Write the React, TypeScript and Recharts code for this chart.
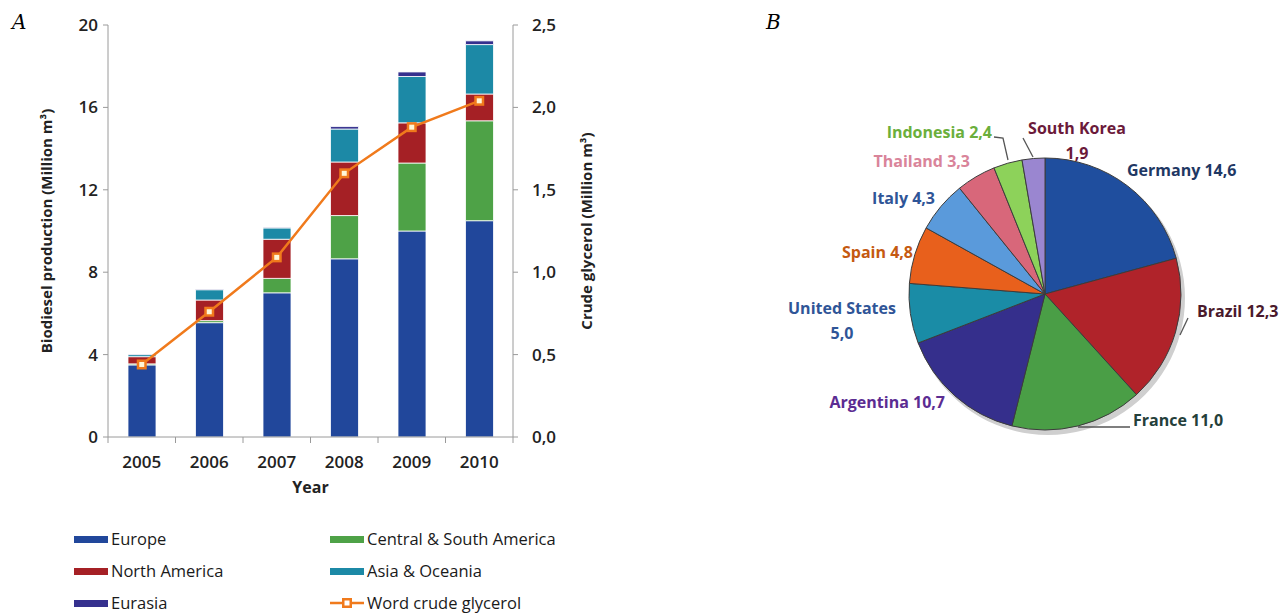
import { Bar, Cell, ComposedChart, Line, Pie, PieChart, XAxis, YAxis } from "recharts";

const years = ["2005", "2006", "2007", "2008", "2009", "2010"];
const europe = [3.5, 5.55, 7.0, 8.65, 10.0, 10.5];
const centralSouthAmerica = [0.05, 0.1, 0.7, 2.1, 3.3, 4.85];
const northAmerica = [0.35, 1.0, 1.9, 2.6, 1.95, 1.3];
const asiaOceania = [0.1, 0.5, 0.55, 1.6, 2.25, 2.4];
const eurasia = [0.03, 0.03, 0.03, 0.12, 0.22, 0.18];
const crudeGlycerol = [0.44, 0.76, 1.09, 1.6, 1.88, 2.04];

const leftTicks = [0, 4, 8, 12, 16, 20];
const rightTicks = [0, 0.5, 1, 1.5, 2, 2.5];

const countries = [
  "Germany", "Brazil", "France", "Argentina", "United States",
  "Spain", "Italy", "Thailand", "Indonesia", "South Korea",
];
const shares = [14.6, 12.3, 11.0, 10.7, 5.0, 4.8, 4.3, 3.3, 2.4, 1.9];

const FONT = "'Open Sans', 'DejaVu Sans', sans-serif";
const PLOT_W = 405;
const BAND = PLOT_W / years.length;

const series = [
  { key: "europe", name: "Europe", color: "#21479B" },
  { key: "csa", name: "Central & South America", color: "#4EA247" },
  { key: "na", name: "North America", color: "#A52025" },
  { key: "asia", name: "Asia & Oceania", color: "#1C89A6" },
  { key: "eurasia", name: "Eurasia", color: "#35308E" },
];
const GLYCEROL = "#F07A1C";

const barData = years.map((year, i) => ({
  year,
  europe: europe[i],
  csa: centralSouthAmerica[i],
  na: northAmerica[i],
  asia: asiaOceania[i],
  eurasia: eurasia[i],
  glycerol: crudeGlycerol[i],
}));

const pieColors = [
  "#1F4E9E", "#B0232A", "#4A9E46", "#352F8C", "#1A8CA6",
  "#E8601C", "#5A9ADB", "#D8677A", "#8DD25A", "#9A86D0",
];

// label placement relative to pie centre
const pieLabelSpots: Record<string, any> = {
  Germany: { x: 82, y: -124, anchor: "start", color: "#1F3864" },
  Brazil: { x: 152, y: 17, anchor: "start", color: "#4A1A2C", leader: [[143, 24], [135, 41]] },
  France: { x: 88, y: 126, anchor: "start", color: "#24403A", leader: [[33, 133], [85, 133]] },
  Argentina: { x: -100, y: 108, anchor: "end", color: "#5B2C92" },
  "United States": { x: -203, y: 14, anchor: "middle", color: "#2F5597", split: true },
  Spain: { x: -132, y: -42, anchor: "end", color: "#C55A11" },
  Italy: { x: -110, y: -96, anchor: "end", color: "#2F5597" },
  Thailand: { x: -75, y: -133, anchor: "end", color: "#D9849A" },
  Indonesia: { x: -53, y: -162, anchor: "end", color: "#6BAF3C", leader: [[-51, -157], [-42, -156], [-37, -134]] },
  "South Korea": { x: 32, y: -166, anchor: "middle", color: "#6B1A3A", split: true, leader: [[-22, -156], [-12, -137]] },
};

const comma = (v: number) => v.toFixed(1).replace(".", ",");

function YearTick(props: any) {
  const { x, y, payload, index } = props;
  const top = y - 6;
  return (
    <g>
      <line x1={x - BAND / 2} x2={x - BAND / 2} y1={top} y2={top + 6} stroke="#9a9a9a" />
      {index === years.length - 1 && (
        <line x1={x + BAND / 2} x2={x + BAND / 2} y1={top} y2={top + 6} stroke="#9a9a9a" />
      )}
      <text x={x} y={y} dy={25} textAnchor="middle" fontSize={17} fontWeight={600} fill="#222">
        {payload.value}
      </text>
    </g>
  );
}

function GlycerolDot(props: any) {
  const { cx, cy } = props;
  if (cx == null || cy == null) return null;
  return (
    <g>
      <rect x={cx - 5} y={cy - 5} width={10} height={10} fill={GLYCEROL} />
      <rect x={cx - 2.5} y={cy - 2.5} width={5} height={5} fill="#FFF6D8" />
    </g>
  );
}

function renderPieLabel(props: any) {
  const { cx, cy, index } = props;
  const name = countries[index];
  const spot = pieLabelSpots[name];
  const val = comma(shares[index]);
  const tx = cx + spot.x;
  const ty = cy + spot.y;
  return (
    <g key={name}>
      {spot.leader && (
        <polyline
          points={spot.leader.map(([a, b]: number[]) => `${cx + a},${cy + b}`).join(" ")}
          fill="none"
          stroke="#555"
          strokeWidth={1.3}
        />
      )}
      <text
        x={tx}
        y={ty}
        textAnchor={spot.anchor}
        dominantBaseline="central"
        fill={spot.color}
        fontSize={16}
        fontWeight={700}
        fontFamily={FONT}
      >
        {spot.split ? (
          <>
            <tspan x={tx} y={ty}>{name}</tspan>
            <tspan x={tx} y={ty + 25}>{val}</tspan>
          </>
        ) : (
          `${name} ${val}`
        )}
      </text>
    </g>
  );
}

const legendRows = [
  [series[0], series[1]],
  [series[2], series[3]],
  [series[4], null],
];

function LegendSwatch({ color, line }: { color: string; line?: boolean }) {
  if (line) {
    return (
      <svg width={34} height={14} style={{ marginRight: 3 }}>
        <line x1={0} x2={34} y1={7} y2={7} stroke={GLYCEROL} strokeWidth={2.5} />
        <rect x={12} y={2} width={10} height={10} fill={GLYCEROL} />
        <rect x={14.5} y={4.5} width={5} height={5} fill="#fff" />
      </svg>
    );
  }
  return <span style={{ display: "inline-block", width: 34, height: 7, background: color, marginRight: 3 }} />;
}

export default function App() {
  const pieData = countries.map((name, i) => ({ name, value: shares[i] }));

  return (
    <div
      style={{
        position: "absolute",
        left: 0,
        top: 0,
        width: 1282,
        height: 614,
        background: "#fff",
        fontFamily: FONT,
        overflow: "hidden",
      }}
    >
      <div style={{ position: "absolute", left: 12, top: 10, fontFamily: "'DejaVu Serif', serif", fontStyle: "italic", fontSize: 20 }}>
        A
      </div>
      <div style={{ position: "absolute", left: 766, top: 10, fontFamily: "'DejaVu Serif', serif", fontStyle: "italic", fontSize: 20 }}>
        B
      </div>

      <div style={{ position: "absolute", left: 0, top: 0 }}>
        <ComposedChart width={603} height={497} data={barData} margin={{ top: 25, right: 0, left: 0, bottom: 0 }}>
          <XAxis
            dataKey="year"
            height={60}
            stroke="#9a9a9a"
            tickSize={6}
            tickMargin={0}
            tickLine={false}
            tick={<YearTick />}
            interval={0}
            label={{ value: "Year", position: "insideBottom", offset: 4, fontSize: 16, fontWeight: 700, fill: "#222" }}
          />
          <YAxis
            yAxisId="left"
            width={108}
            domain={[0, 20]}
            ticks={leftTicks}
            stroke="#9a9a9a"
            tickSize={5}
            tickMargin={5}
            tick={{ fontSize: 17, fontWeight: 600, fill: "#222" }}
            label={{
              value: "Biodiesel production (Million m³)",
              angle: -90,
              position: "center",
              dx: -7,
              fontSize: 15,
              fontWeight: 700,
              fill: "#222",
            }}
          />
          <YAxis
            yAxisId="right"
            orientation="right"
            width={90}
            domain={[0, 2.5]}
            ticks={rightTicks}
            tickFormatter={comma}
            stroke="#9a9a9a"
            tickSize={5}
            tickMargin={14}
            tick={{ fontSize: 17, fontWeight: 600, fill: "#222" }}
            label={{
              value: "Crude glycerol (Million m³)",
              angle: -90,
              position: "center",
              dx: 29,
              fontSize: 15,
              fontWeight: 700,
              fill: "#222",
            }}
          />
          {series.map((s) => (
            <Bar
              key={s.key}
              yAxisId="left"
              dataKey={s.key}
              name={s.name}
              stackId="prod"
              fill={s.color}
              stroke="#ffffff"
              strokeWidth={0.8}
              barSize={28}
              isAnimationActive={false}
            />
          ))}
          <Line
            yAxisId="right"
            type="linear"
            dataKey="glycerol"
            name="Word crude glycerol"
            stroke={GLYCEROL}
            strokeWidth={2.5}
            dot={<GlycerolDot />}
            activeDot={false}
            isAnimationActive={false}
          />
        </ComposedChart>
      </div>

      <div style={{ position: "absolute", left: 74, top: 523, fontSize: 16.5, lineHeight: "20px", color: "#1a1a1a" }}>
        {legendRows.map((row, r) => (
          <div key={r} style={{ display: "flex", height: 32, alignItems: "center" }}>
            {row.map((s, c) => (
              <div key={c} style={{ width: 256, display: "flex", alignItems: "center" }}>
                {s ? (
                  <>
                    <LegendSwatch color={s.color} />
                    {s.name}
                  </>
                ) : (
                  <>
                    <LegendSwatch color={GLYCEROL} line />
                    Word crude glycerol
                  </>
                )}
              </div>
            ))}
          </div>
        ))}
      </div>

      <div style={{ position: "absolute", left: 760, top: 60 }}>
        <PieChart width={522} height={460}>
          <Pie
            data={[{ name: "shadow", value: 1 }]}
            dataKey="value"
            cx={283}
            cy={233}
            outerRadius={137}
            fill="#cfcfcf"
            stroke="none"
            isAnimationActive={false}
          />
          <Pie
            data={pieData}
            dataKey="value"
            nameKey="name"
            cx={280}
            cy={229}
            outerRadius={136}
            startAngle={90}
            endAngle={-270}
            stroke="#3c3c3c"
            strokeWidth={1}
            label={renderPieLabel}
            labelLine={false}
            isAnimationActive={false}
          >
            {pieData.map((d, i) => (
              <Cell key={d.name} fill={pieColors[i]} />
            ))}
          </Pie>
        </PieChart>
      </div>
    </div>
  );
}
